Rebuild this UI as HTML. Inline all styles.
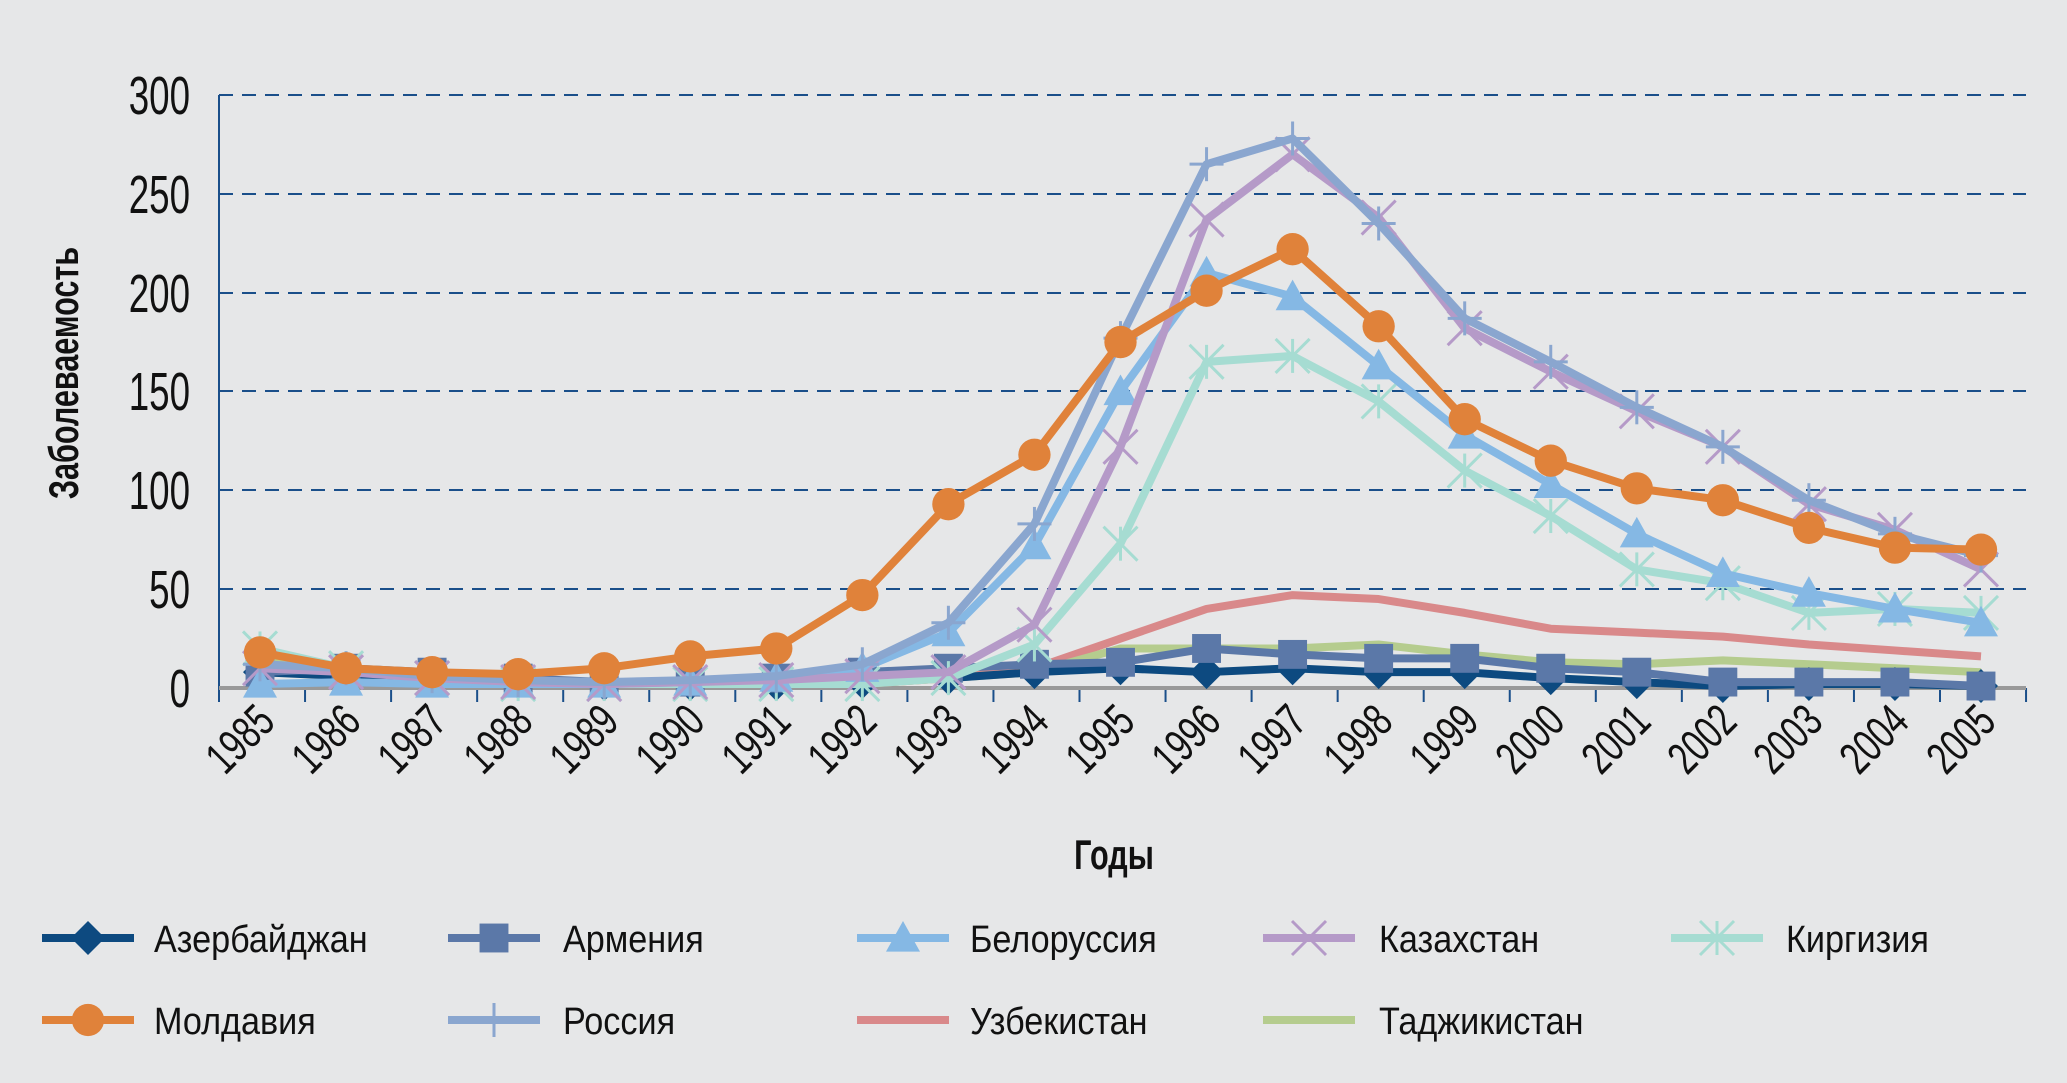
<!DOCTYPE html>
<html><head><meta charset="utf-8">
<style>
html,body{margin:0;padding:0;background:#e6e7e8;}
svg{display:block;}
text{font-family:"Liberation Sans Narrow","Liberation Sans",sans-serif;fill:#111;}
</style></head>
<body>
<svg id="c" width="2067" height="1083" viewBox="0 0 2067 1083" xmlns="http://www.w3.org/2000/svg">
<rect width="2067" height="1083" fill="#e6e7e8"/>
<g stroke="#1a4f8a" stroke-width="2" stroke-dasharray="14,9">
<line x1="219" y1="95" x2="2026" y2="95"/>
<line x1="219" y1="194" x2="2026" y2="194"/>
<line x1="219" y1="293" x2="2026" y2="293"/>
<line x1="219" y1="391" x2="2026" y2="391"/>
<line x1="219" y1="490" x2="2026" y2="490"/>
<line x1="219" y1="589" x2="2026" y2="589"/>
</g>
<line x1="219" y1="95" x2="219" y2="702" stroke="#1a4f8a" stroke-width="2"/>
<g id="ticks" stroke="#1a4f8a" stroke-width="2"></g>
<line x1="219" y1="688" x2="2026" y2="688" stroke="#999" stroke-width="4"/>
<g font-size="54" text-anchor="end">
<text transform="translate(190,114) scale(0.68,1)">300</text>
<text transform="translate(190,213) scale(0.68,1)">250</text>
<text transform="translate(190,312) scale(0.68,1)">200</text>
<text transform="translate(190,410) scale(0.68,1)">150</text>
<text transform="translate(190,509) scale(0.68,1)">100</text>
<text transform="translate(190,608) scale(0.68,1)">50</text>
<text transform="translate(190,707) scale(0.68,1)">0</text>
</g>
<text transform="translate(78,373) rotate(-90) scale(0.85,1.15)" font-size="36" font-weight="bold" text-anchor="middle">Заболеваемость</text>
<text transform="translate(1114,869) scale(0.85,1.15)" font-size="36" font-weight="bold" text-anchor="middle">Годы</text>
<g font-size="46" text-anchor="end">
<text transform="translate(277,724) rotate(-45) scale(0.72,1)">1985</text>
<text transform="translate(363,724) rotate(-45) scale(0.72,1)">1986</text>
<text transform="translate(449,724) rotate(-45) scale(0.72,1)">1987</text>
<text transform="translate(535,724) rotate(-45) scale(0.72,1)">1988</text>
<text transform="translate(621,724) rotate(-45) scale(0.72,1)">1989</text>
<text transform="translate(707,724) rotate(-45) scale(0.72,1)">1990</text>
<text transform="translate(793,724) rotate(-45) scale(0.72,1)">1991</text>
<text transform="translate(879,724) rotate(-45) scale(0.72,1)">1992</text>
<text transform="translate(965,724) rotate(-45) scale(0.72,1)">1993</text>
<text transform="translate(1051,724) rotate(-45) scale(0.72,1)">1994</text>
<text transform="translate(1137,724) rotate(-45) scale(0.72,1)">1995</text>
<text transform="translate(1223,724) rotate(-45) scale(0.72,1)">1996</text>
<text transform="translate(1309,724) rotate(-45) scale(0.72,1)">1997</text>
<text transform="translate(1395,724) rotate(-45) scale(0.72,1)">1998</text>
<text transform="translate(1481,724) rotate(-45) scale(0.72,1)">1999</text>
<text transform="translate(1567,724) rotate(-45) scale(0.72,1)">2000</text>
<text transform="translate(1653,724) rotate(-45) scale(0.72,1)">2001</text>
<text transform="translate(1739,724) rotate(-45) scale(0.72,1)">2002</text>
<text transform="translate(1825,724) rotate(-45) scale(0.72,1)">2003</text>
<text transform="translate(1911,724) rotate(-45) scale(0.72,1)">2004</text>
<text transform="translate(1998,724) rotate(-45) scale(0.72,1)">2005</text>
</g>
<g id="series"></g>
<g id="legend"></g>
<g font-size="38">
<text transform="translate(154,952) scale(0.9,1)">Азербайджан</text>
<text transform="translate(563,952) scale(0.9,1)">Армения</text>
<text transform="translate(970,952) scale(0.9,1)">Белоруссия</text>
<text transform="translate(1379,952) scale(0.9,1)">Казахстан</text>
<text transform="translate(1786,952) scale(0.9,1)">Киргизия</text>
<text transform="translate(154,1034) scale(0.9,1)">Молдавия</text>
<text transform="translate(563,1034) scale(0.9,1)">Россия</text>
<text transform="translate(970,1034) scale(0.9,1)">Узбекистан</text>
<text transform="translate(1379,1034) scale(0.9,1)">Таджикистан</text>
</g>
</svg>
<script>
var NS="http://www.w3.org/2000/svg";
function el(p,t,a){var e=document.createElementNS(NS,t);for(var k in a)e.setAttribute(k,a[k]);p.appendChild(e);return e;}
var tk=document.getElementById('ticks');
for(var k=0;k<=21;k++){var x=219+k*86.05;el(tk,'line',{x1:x,y1:688,x2:x,y2:702});}
function X(i){return 260+i*86.05;} function Y(v){return 688-v*593/300;}
var S=[
["#0d4a80","diamond",[8,6,5,3,2,2,2,3,5,8,10,8,10,8,8,5,3,1,2,2,1]],
["#5b78a8","square",[8,10,8,5,3,3,5,8,10,12,13,20,17,15,15,10,8,3,3,3,1]],
["#85b8e4","tri",[2,3,2,2,2,3,5,10,28,72,150,210,198,163,128,103,78,58,48,40,33]],
["#b59ac8","x",[10,8,5,3,2,3,4,6,8,32,122,237,270,238,182,160,140,122,93,80,60]],
["#a6dcd2","star",[20,10,5,2,2,2,2,2,5,22,73,165,168,145,110,87,60,53,38,40,38]],
["#e0823a","circle",[18,10,8,7,10,16,20,47,93,118,175,201,222,183,136,115,101,95,81,71,70]],
["#8aa6cf","plus",[12,10,6,4,3,4,6,12,33,83,177,265,278,235,187,165,142,122,95,78,67]],
["#d9898a","none",[13,7,5,3,2,2,2,2,5,10,25,40,47,45,38,30,28,26,22,19,16]],
["#b5cc8e","none",[17,10,7,3,2,2,2,2,5,8,20,20,20,22,17,13,12,14,12,10,8]]
];
function marker(g,type,c,x,y,r){
 if(type=="diamond")el(g,'polygon',{points:(x)+","+(y-r)+" "+(x+r)+","+y+" "+x+","+(y+r)+" "+(x-r)+","+y,fill:c});
 else if(type=="square")el(g,'rect',{x:x-r*0.85,y:y-r*0.85,width:r*1.7,height:r*1.7,fill:c});
 else if(type=="tri")el(g,'polygon',{points:x+","+(y-r)+" "+(x+r)+","+(y+r*0.8)+" "+(x-r)+","+(y+r*0.8),fill:c});
 else if(type=="circle")el(g,'circle',{cx:x,cy:y,r:r*0.95,fill:c});
 else if(type=="x"){el(g,'line',{x1:x-r,y1:y-r,x2:x+r,y2:y+r,stroke:c,'stroke-width':3});el(g,'line',{x1:x-r,y1:y+r,x2:x+r,y2:y-r,stroke:c,'stroke-width':3});}
 else if(type=="star"){el(g,'line',{x1:x-r,y1:y-r,x2:x+r,y2:y+r,stroke:c,'stroke-width':3});el(g,'line',{x1:x-r,y1:y+r,x2:x+r,y2:y-r,stroke:c,'stroke-width':3});el(g,'line',{x1:x,y1:y-r,x2:x,y2:y+r,stroke:c,'stroke-width':3});}
 else if(type=="plus"){el(g,'line',{x1:x-r,y1:y,x2:x+r,y2:y,stroke:c,'stroke-width':3});el(g,'line',{x1:x,y1:y-r,x2:x,y2:y+r,stroke:c,'stroke-width':3});}
}
var sg=document.getElementById('series');
var order=[7,8,0,1,4,2,3,6,5];
order.forEach(function(si){var s=S[si];var pts=s[2].map(function(v,i){return X(i)+","+Y(v)}).join(" ");
 el(sg,'polyline',{points:pts,fill:'none',stroke:s[0],'stroke-width':8,'stroke-linejoin':'round'});
 if(s[1]!="none")s[2].forEach(function(v,i){marker(sg,s[1],s[0],X(i),Y(v),17);});});
var lg=document.getElementById('legend');
var pos=[[42,938],[448,938],[857,938],[1263,938],[1671,938],[42,1020],[448,1020],[857,1020],[1263,1020]];
S.forEach(function(s,i){var p=pos[i];el(lg,'line',{x1:p[0],y1:p[1],x2:p[0]+92,y2:p[1],stroke:s[0],'stroke-width':8});
 if(s[1]!="none")marker(lg,s[1],s[0],p[0]+46,p[1],17);});
</script>
</body></html>
